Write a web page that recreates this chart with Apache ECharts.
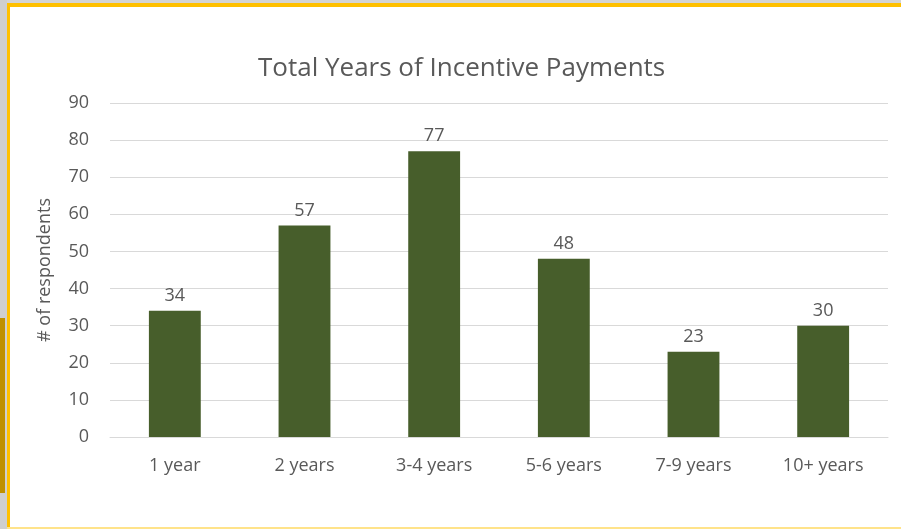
<!DOCTYPE html>
<html>
<head>
<meta charset="utf-8">
<script src="https://cdn.jsdelivr.net/npm/echarts@6/dist/echarts.min.js"></script>
<style>
  html, body { margin: 0; padding: 0; background: #ffffff; }
  #chart { width: 901px; height: 529px; }
</style>
</head>
<body>
<div id="chart"></div>
<script>
// Survey results: how many years respondents received incentive payments
const categories = ['1 year', '2 years', '3-4 years', '5-6 years', '7-9 years', '10+ years'];
const respondents = [34, 57, 77, 48, 23, 30];
const yTicks = { min: 0, max: 90, interval: 10 };

const FONT = '"Open Sans", "Noto Sans", sans-serif';
const TEXT = '#595959';

const chart = echarts.init(document.getElementById('chart'), null, { renderer: 'canvas' });

chart.setOption({
  backgroundColor: '#ffffff',
  animation: false,
  title: {
    text: 'Total Years of Incentive Payments',
    left: 253,
    top: 51,
    textStyle: { fontFamily: FONT, fontSize: 26, fontWeight: 'normal', color: TEXT }
  },
  grid: { left: 110, right: 13, top: 103, bottom: 92, containLabel: false },
  xAxis: {
    type: 'category',
    data: categories,
    axisLine: { show: true, lineStyle: { color: '#d9d9d9', width: 1 } },
    axisTick: { show: false },
    axisLabel: { fontFamily: FONT, fontSize: 18, color: TEXT, margin: 20 }
  },
  yAxis: {
    type: 'value',
    min: yTicks.min,
    max: yTicks.max,
    interval: yTicks.interval,
    name: '# of respondents',
    nameLocation: 'middle',
    nameGap: 56,
    nameRotate: 90,
    nameTextStyle: { fontFamily: FONT, fontSize: 18, color: TEXT },
    axisLine: { show: false },
    axisTick: { show: false },
    axisLabel: { fontFamily: FONT, fontSize: 18, color: TEXT, margin: 21 },
    splitLine: { lineStyle: { color: '#d9d9d9', width: 1 } }
  },
  series: [{
    type: 'bar',
    data: respondents,
    barWidth: '40%',
    itemStyle: { color: '#475e2b' },
    label: {
      show: true,
      position: 'top',
      distance: 6,
      fontFamily: FONT,
      fontSize: 18,
      color: TEXT
    }
  }],
  graphic: [
    // slide frame: grey margin, gold accents and yellow border
    { type: 'rect', silent: true, shape: { x: 0, y: 0, width: 901, height: 3 }, style: { fill: '#d4d4d4' } },
    { type: 'rect', silent: true, shape: { x: 0, y: 0, width: 7, height: 529 }, style: { fill: '#cfcfcf' } },
    { type: 'rect', silent: true, shape: { x: 0, y: 318, width: 5, height: 175 }, style: { fill: '#bf9000' } },
    { type: 'rect', silent: true, shape: { x: 7, y: 3, width: 894, height: 4 }, style: { fill: '#ffc000' } },
    { type: 'rect', silent: true, shape: { x: 7, y: 3, width: 3, height: 526 }, style: { fill: '#ffc000' } },
    { type: 'rect', silent: true, shape: { x: 7, y: 527, width: 894, height: 2 }, style: { fill: '#ffe38a' } }
  ]
});
</script>
</body>
</html>
